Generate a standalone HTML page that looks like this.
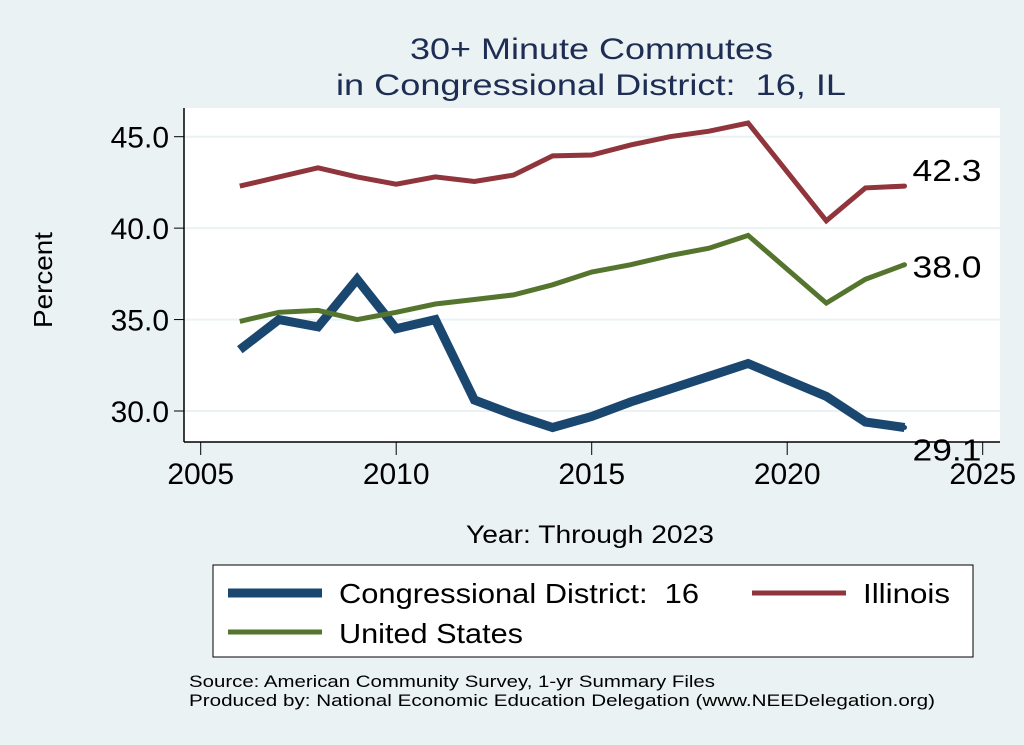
<!DOCTYPE html>
<html><head><meta charset="utf-8"><style>
body{margin:0;background:#eaf2f3;}
svg{display:block;font-family:"Liberation Sans",sans-serif;}
svg text{white-space:pre;}
</style></head><body>
<svg id="chart" width="1024" height="745" viewBox="0 0 1024 745">
<rect x="0" y="0" width="1024" height="745" fill="#eaf2f3"/>
<text x="410" y="59" font-size="30" fill="#1e2d53" textLength="363" lengthAdjust="spacingAndGlyphs">30+ Minute Commutes</text>
<text x="336" y="95" font-size="30" fill="#1e2d53" textLength="510" lengthAdjust="spacingAndGlyphs">in Congressional District:  16, IL</text>
<rect x="184" y="108" width="816" height="334" fill="#ffffff"/>
<g id="grid"></g>
<g id="axes"></g>
<g id="series"></g>
<text transform="translate(52,280) rotate(-90)" text-anchor="middle" font-size="26" fill="#000" textLength="96" lengthAdjust="spacingAndGlyphs">Percent</text>
<text x="466" y="543" font-size="25" fill="#000" textLength="248" lengthAdjust="spacingAndGlyphs">Year: Through 2023</text>
<g>
<rect x="213" y="565" width="760" height="92" fill="#fff" stroke="#000" stroke-width="1"/>
<line x1="228" y1="593" x2="322" y2="593" stroke="#1a476f" stroke-width="9"/>
<text x="339" y="603" font-size="28" textLength="360" lengthAdjust="spacingAndGlyphs">Congressional District:  16</text>
<line x1="752" y1="593" x2="846" y2="593" stroke="#90353b" stroke-width="5"/>
<text x="863" y="603" font-size="28" textLength="87" lengthAdjust="spacingAndGlyphs">Illinois</text>
<line x1="228" y1="632" x2="322" y2="632" stroke="#55752f" stroke-width="5"/>
<text x="339" y="643" font-size="28" textLength="184" lengthAdjust="spacingAndGlyphs">United States</text>
</g>
<text x="189" y="687" font-size="17" textLength="526" lengthAdjust="spacingAndGlyphs">Source: American Community Survey, 1-yr Summary Files</text>
<text x="189" y="706" font-size="17" textLength="746" lengthAdjust="spacingAndGlyphs">Produced by: National Economic Education Delegation (www.NEEDelegation.org)</text>
</svg>
<script>
const years = [2006,2007,2008,2009,2010,2011,2012,2013,2014,2015,2016,2017,2018,2019,2021,2022,2023];
const district = [33.35,35.0,34.6,37.2,34.5,35.0,30.6,29.8,29.1,29.7,30.5,31.2,31.9,32.6,30.8,29.4,29.1];
const illinois = [42.3,42.8,43.3,42.8,42.4,42.8,42.55,42.9,43.95,44.0,44.55,45.0,45.3,45.75,40.4,42.2,42.3];
const usa = [34.9,35.4,35.5,35.0,35.4,35.85,36.1,36.35,36.9,37.6,38.0,38.5,38.9,39.6,35.9,37.2,38.0];
const yTicks = [30,35,40,45];
const yTickLabels = ["30.0","35.0","40.0","45.0"];
const xTicks = [2005,2010,2015,2020,2025];

const NS="http://www.w3.org/2000/svg";
function xs(v){return 200.7+(v-2005)*(982.7-200.7)/20;}
function ys(v){return 411-(v-30)*(411-136.7)/15;}
function mk(tag,attrs,parent){const e=document.createElementNS(NS,tag);for(const k in attrs)e.setAttribute(k,attrs[k]);parent.appendChild(e);return e;}
const grid=document.getElementById('grid'),axes=document.getElementById('axes'),series=document.getElementById('series');
yTicks.forEach((t,i)=>{
  const g=mk('line',{x1:184,x2:1000,y1:ys(t),y2:ys(t),stroke:'#eaf2f3','stroke-width':2},grid);
  
  
  const tk=mk('line',{x1:174,x2:184,y1:ys(t),y2:ys(t),stroke:'#000','stroke-width':1},axes);
  
  
  const tx=mk('text',{x:169,y:ys(t)+11,'text-anchor':'end','font-size':30},axes);
  tx.textContent=yTickLabels[i];
  
  
});
xTicks.forEach(t=>{
  const tk=mk('line',{x1:xs(t),x2:xs(t),y1:442,y2:455,stroke:'#000','stroke-width':1},axes);
  
  
  const tx=mk('text',{x:xs(t),y:484,'text-anchor':'middle','font-size':30},axes);
  tx.textContent=t;
  
  
});
const ya=mk('line',{x1:184,x2:184,y1:108,y2:442,stroke:'#000','stroke-width':1.5},axes);


const xa=mk('line',{x1:184,x2:1000,y1:442,y2:442,stroke:'#000','stroke-width':1.5},axes);


function line(vals,color,w,name){
  const d=vals.map((v,i)=>(i?'L':'M')+xs(years[i]).toFixed(1)+','+ys(v).toFixed(1)).join(' ');
  const p=mk('path',{d:d,fill:'none',stroke:color,'stroke-width':w,'stroke-linejoin':'miter'},series);
  
  
  const last=vals[vals.length-1];
  const c=mk('circle',{cx:xs(years[years.length-1]),cy:ys(last),r:2.5,fill:color},series);
  
  
  return last;
}
const lblD=line(district,'#1a476f',9,'series-district');
const lblI=line(illinois,'#90353b',5,'series-illinois');
const lblU=line(usa,'#55752f',5,'series-us');
[[lblI,'label-illinois',-5],[lblU,'label-us',13],[lblD,'label-district',33]].forEach(([v,n,dy])=>{
  const t=mk('text',{x:xs(2023)+8,y:ys(v)+dy,'font-size':31,textLength:69,lengthAdjust:'spacingAndGlyphs'},series);
  t.textContent=v.toFixed(1);
  
  
});
</script>
</body></html>
